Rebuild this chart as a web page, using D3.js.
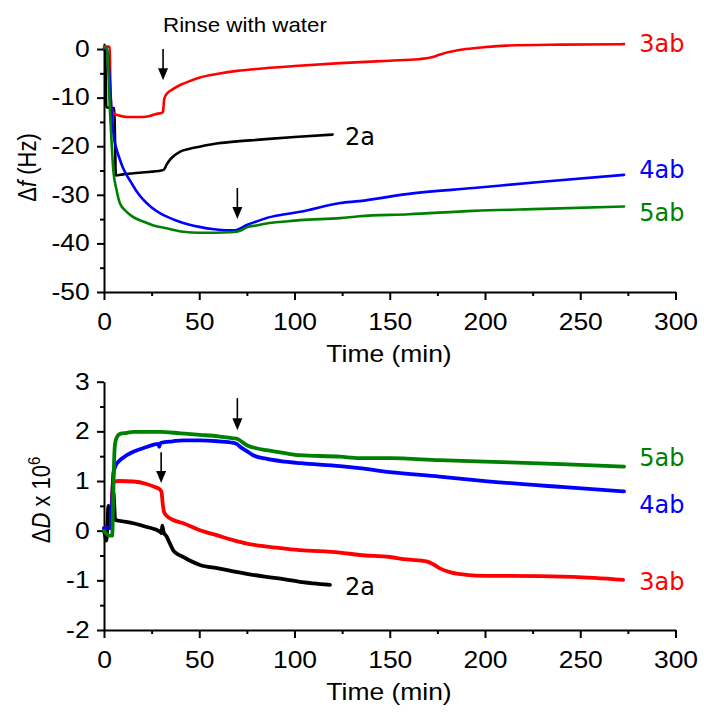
<!DOCTYPE html>
<html>
<head>
<meta charset="utf-8">
<script src="https://cdn.jsdelivr.net/npm/d3@7"></script>
<style>
  html, body { margin: 0; padding: 0; background: #fff; }
  svg { display: block; }
</style>
</head>
<body>
<div id="chart"></div>
<script>
// ---------------- DATA ----------------
// Top panel: frequency shift Δf (Hz) vs time (min)
const f2a_t = [0, 0.6, 0.9, 1.2, 5.4, 5.8, 6.2, 10, 20, 30, 31.5, 33, 35, 40, 45, 50, 60, 70, 80, 100, 120];
const f2a_v = [0, 0, -6, -12, -12.2, -19, -26, -25.8, -25.4, -25, -24.8, -23.7, -22.6, -21.1, -20.5, -20.1, -19.4, -19.0, -18.7, -18.1, -17.6];

const f3ab_t = [0, 2, 3, 3.3, 3.8, 5, 8, 12, 20, 24, 27, 30.5, 31, 31.6, 33, 36, 40, 45, 50, 60, 70, 80, 100, 124, 150, 165, 172, 176, 180, 185, 190, 200, 211, 240, 273];
const f3ab_v = [0.5, 0.5, 0.4, -6, -12, -13.2, -13.7, -14, -14, -13.8, -13.4, -13.1, -12.8, -10.3, -9.2, -8.3, -7.4, -6.6, -5.9, -5.1, -4.5, -4.1, -3.5, -2.9, -2.4, -2.1, -1.7, -1.2, -0.7, -0.3, 0, 0.4, 0.7, 0.9, 1.0];

const f4ab_t = [0, 1.5, 2.5, 3.1, 4, 4.9, 6.5, 8.4, 10, 12, 14, 17, 20.6, 25, 30, 33, 40, 50, 58, 65, 69, 71, 75, 80, 85, 95, 103, 124, 134, 160, 194, 230, 273];
const f4ab_v = [0, 0, -3, -7, -13, -17.3, -20.5, -22.8, -24.5, -26, -27.3, -29.2, -31, -32.6, -33.9, -34.5, -35.6, -36.6, -37.1, -37.3, -37.3, -37, -36.2, -35.5, -34.8, -34, -33.5, -31.7, -31.3, -29.8, -28.6, -27.3, -25.9];

const f5ab_t = [0, 1.5, 3.1, 4.9, 6.6, 8.4, 11.9, 15, 20.6, 26, 32.9, 41.6, 50, 59, 66, 69.6, 72, 74.9, 80, 85.4, 95, 102.8, 124, 134, 160, 194, 230, 273];
const f5ab_v = [0.3, 0.3, -12.5, -25, -29, -31.8, -33.5, -34.5, -35.5, -36.3, -36.9, -37.6, -37.8, -37.8, -37.7, -37.6, -37.3, -36.7, -36.3, -35.9, -35.5, -35.2, -34.8, -34.4, -34.0, -33.3, -32.9, -32.4];

// Bottom panel: dissipation shift ΔD x 10^6 vs time (min)
const d2a_t = [0, 0.6, 1.2, 1.8, 2.3, 2.8, 3.3, 4, 4.9, 5.4, 5.8, 8, 15.4, 22, 29.4, 30.2, 30.6, 31.2, 32.9, 34.5, 36.4, 38.5, 41.6, 45, 50.4, 60, 67.8, 75, 85.4, 95, 102.8, 110, 118.6];
const d2a_v = [0, -0.1, -0.2, 0.1, 0.5, 0.2, 0.1, 0.5, 0.78, 0.5, 0.22, 0.2, 0.15, 0.08, -0.02, -0.05, 0.1, -0.02, -0.12, -0.25, -0.4, -0.47, -0.53, -0.6, -0.69, -0.76, -0.82, -0.87, -0.93, -0.98, -1.03, -1.06, -1.09];

const d3ab_t = [0, 3.5, 4.3, 4.9, 8, 15.4, 22.3, 26, 29.4, 30.2, 30.8, 31.5, 32.9, 36, 41.6, 50.4, 60, 67.8, 75, 85.4, 95, 102.8, 123.8, 134.3, 150, 158.8, 169.3, 173, 176.3, 182, 190.3, 200, 211.3, 246.2, 272.5];
const d3ab_v = [0.05, 0.05, 0.75, 0.99, 1.0, 0.99, 0.94, 0.89, 0.83, 0.78, 0.55, 0.38, 0.3, 0.22, 0.15, 0.01, -0.1, -0.19, -0.26, -0.32, -0.36, -0.39, -0.44, -0.49, -0.53, -0.58, -0.62, -0.68, -0.76, -0.84, -0.89, -0.91, -0.91, -0.93, -0.99];

const d4ab_t = [0, 3.5, 4.3, 4.9, 6, 8.4, 12, 15.4, 22, 28.5, 29, 29.5, 30, 36, 41.6, 50.4, 60, 67.8, 70, 71.4, 75, 78.3, 85, 95, 102.8, 124, 134, 150, 176, 200, 240, 273];
const d4ab_v = [0.05, 0.05, 0.6, 1.15, 1.3, 1.42, 1.52, 1.59, 1.68, 1.75, 1.69, 1.75, 1.77, 1.8, 1.82, 1.82, 1.8, 1.77, 1.74, 1.69, 1.6, 1.52, 1.45, 1.39, 1.36, 1.3, 1.26, 1.18, 1.09, 1.0, 0.88, 0.79];

const d5ab_t = [0, 1, 3, 4.3, 4.8, 5.3, 5.8, 7, 8.4, 12, 15.4, 22, 29.4, 40, 50.4, 60, 67.8, 70, 72, 75, 80, 85.4, 95, 102.8, 124, 134, 150, 176, 200, 240, 273];
const d5ab_v = [0, -0.05, -0.1, -0.1, 0.6, 1.4, 1.75, 1.9, 1.95, 1.97, 1.99, 1.99, 1.99, 1.96, 1.93, 1.9, 1.86, 1.85, 1.8, 1.72, 1.66, 1.62, 1.56, 1.52, 1.49, 1.46, 1.46, 1.42, 1.39, 1.34, 1.29];

const seriesNames = ["2a", "3ab", "4ab", "5ab"];
const seriesColors = ["#000000", "#ff0000", "#0000ff", "#008000"];

const xTicks = [0, 50, 100, 150, 200, 250, 300];
const xMinor = [25, 75, 125, 175, 225, 275];
const fTicks = [-50, -40, -30, -20, -10, 0];
const fMinor = [-45, -35, -25, -15, -5];
const dTicks = [-2, -1, 0, 1, 2, 3];
const dMinor = [-1.5, -0.5, 0.5, 1.5, 2.5];

// label anchors (data units)
const topLabels = [
  { name: "3ab", t: 281, v: -0.6 },
  { name: "2a", t: 126.5, v: -19.7 },
  { name: "4ab", t: 281, v: -26.5 },
  { name: "5ab", t: 281, v: -35.4 }
];
const botLabels = [
  { name: "5ab", t: 281, v: 1.30 },
  { name: "4ab", t: 281, v: 0.36 },
  { name: "3ab", t: 281, v: -1.20 },
  { name: "2a", t: 126.5, v: -1.29 }
];
const topArrows = [{ t: 31, from: 0, to: -6.4 }, { t: 70, from: -28.6, to: -35 }];
const botArrows = [{ t: 70, from: 2.67, to: 2.02 }, { t: 30, from: 1.58, to: 0.96 }];

// ---------------- DRAW ----------------
const W = 704, H = 715, SX = 1.15;
const FONT = "'Liberation Sans', Arial, sans-serif";
const svg = d3.select("#chart").append("svg").attr("width", W).attr("height", H);

const x = d3.scaleLinear().domain([0, 300]).range([104, 675.5]);
const yTop = d3.scaleLinear().domain([-50, 1.2]).range([292, 43.2]);
const yBot = d3.scaleLinear().domain([-2, 3]).range([630, 381.7]);

function drawAxes(y, major, minor, axisY) {
  const gx = svg.append("g").attr("transform", `translate(0,${axisY})`)
    .call(d3.axisBottom(x).tickValues(xTicks).tickSize(8).tickSizeOuter(0).tickPadding(13.3).tickFormat(d => String(d)));
  svg.append("g").attr("transform", `translate(0,${axisY})`)
    .call(d3.axisBottom(x).tickValues(xMinor).tickSize(4).tickFormat(""))
    .select(".domain").remove();
  const gy = svg.append("g").attr("transform", `translate(104,0)`)
    .call(d3.axisLeft(y).tickValues(major).tickSize(7).tickSizeOuter(0).tickPadding(5.5).tickFormat(d => String(d)));
  svg.append("g").attr("transform", `translate(104,0)`)
    .call(d3.axisLeft(y).tickValues(minor).tickSize(4).tickFormat(""))
    .select(".domain").remove();
  svg.selectAll(".domain, .tick line").attr("stroke", "#000").attr("stroke-width", 2);
  [gx, gy].forEach(g => g.selectAll("text")
    .attr("font-family", FONT).attr("font-size", 23).attr("fill", "#000")
    .attr("transform", `scale(${SX},1)`));
}

function stext(px, py, anchor, size, sx, build) {
  const t = svg.append("text")
    .attr("transform", `translate(${px},${py}) scale(${sx},1)`)
    .attr("text-anchor", anchor).attr("font-family", FONT)
    .attr("font-size", size).attr("fill", "#000");
  build(t);
  return t;
}

function drawSeries(y, tArrs, vArrs, width) {
  const line = d3.line().x(d => x(d[0])).y(d => y(d[1])).curve(d3.curveMonotoneX);
  tArrs.forEach((ts, i) => {
    const pts = ts.map((t, k) => [t, vArrs[i][k]]);
    svg.append("path").attr("d", line(pts)).attr("fill", "none")
      .attr("stroke", seriesColors[i]).attr("stroke-width", width)
      .attr("stroke-linejoin", "round").attr("stroke-linecap", "round");
  });
}

function drawArrow(px, y0, y1) {
  svg.append("line").attr("x1", px).attr("x2", px).attr("y1", y0).attr("y2", y1 - 8)
    .attr("stroke", "#000").attr("stroke-width", 1.6);
  svg.append("path").attr("d", `M${px - 5},${y1 - 12} L${px + 5},${y1 - 12} L${px},${y1} Z`).attr("fill", "#000");
}

function drawLabels(y, labels) {
  labels.forEach(l => {
    const i = seriesNames.indexOf(l.name);
    svg.append("text").attr("x", x(l.t)).attr("y", y(l.v))
      .attr("font-family", "'DejaVu Sans', sans-serif").attr("font-size", 24)
      .attr("fill", seriesColors[i]).text(l.name);
  });
}

// Top panel
drawAxes(yTop, fTicks, fMinor, 292);
drawSeries(yTop, [f2a_t, f3ab_t, f4ab_t, f5ab_t], [f2a_v, f3ab_v, f4ab_v, f5ab_v], 2.6);
drawLabels(yTop, topLabels);
topArrows.forEach(a => drawArrow(x(a.t), yTop(a.from), yTop(a.to)));
stext(163, 32, "start", 20.5, 1.09, t => t.text("Rinse with water"));
stext(389, 361.5, "middle", 23, SX, t => t.text("Time (min)"));
svg.append("text")
  .attr("transform", `translate(36,167.5) scale(${SX},1) rotate(-90)`)
  .attr("text-anchor", "middle").attr("font-family", FONT).attr("font-size", 22)
  .call(t => {
    t.append("tspan").text("\u0394");
    t.append("tspan").attr("font-style", "italic").text("f");
    t.append("tspan").text(" (Hz)");
  });

// Bottom panel
drawAxes(yBot, dTicks, dMinor, 630);
drawSeries(yBot, [d2a_t, d3ab_t, d4ab_t, d5ab_t], [d2a_v, d3ab_v, d4ab_v, d5ab_v], 3.8);
drawLabels(yBot, botLabels);
botArrows.forEach(a => drawArrow(x(a.t), yBot(a.from), yBot(a.to)));
stext(389, 699.5, "middle", 23, SX, t => t.text("Time (min)"));
svg.append("text")
  .attr("transform", `translate(50,500) scale(${SX},1) rotate(-90)`)
  .attr("text-anchor", "middle").attr("font-family", FONT).attr("font-size", 22)
  .call(t => {
    t.append("tspan").text("\u0394");
    t.append("tspan").attr("font-style", "italic").text("D");
    t.append("tspan").text(" x 10");
    t.append("tspan").attr("font-size", 15).attr("dy", -9).text("6");
  });
</script>
</body>
</html>
